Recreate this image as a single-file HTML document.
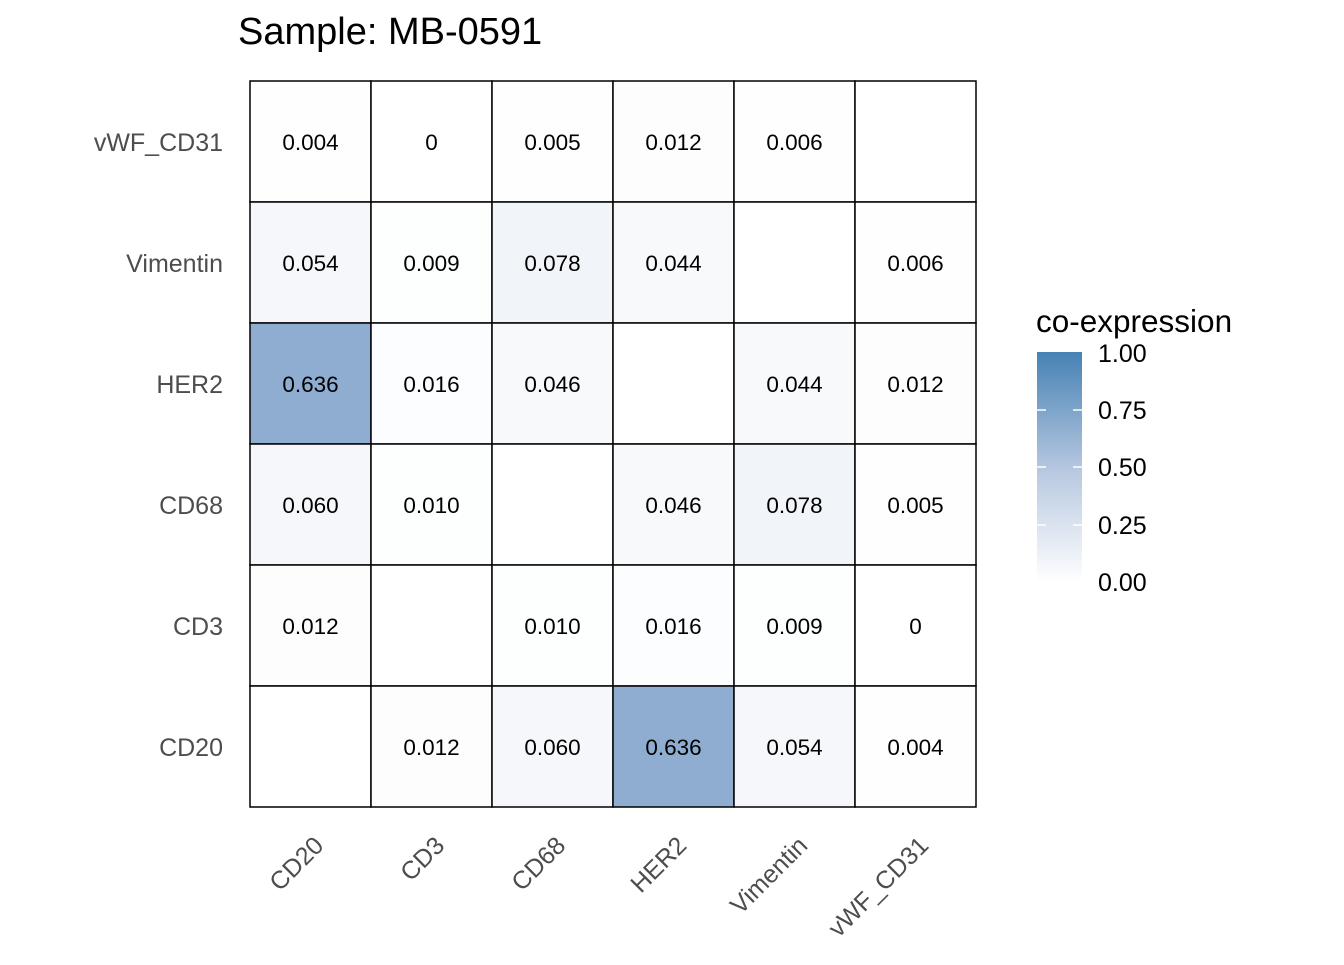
<!DOCTYPE html>
<html><head><style>body{margin:0;background:#fff}</style></head><body>
<svg width="1344" height="960" xmlns="http://www.w3.org/2000/svg" font-family="Liberation Sans, sans-serif">
<defs><linearGradient id="g" x1="0" y1="1" x2="0" y2="0">
<stop offset="0" stop-color="#ffffff"/><stop offset="0.5" stop-color="#b4c6df"/><stop offset="1" stop-color="#4682b4"/></linearGradient></defs>
<text x="238" y="44" font-size="38" fill="#000">Sample: MB-0591</text>
<g id="cells" stroke="#000" stroke-width="1.5"></g>
<g font-size="22.5" text-anchor="middle" id="vals"></g>
<g font-size="25" fill="#4d4d4d" text-anchor="end" id="ylab"></g>
<g font-size="25" fill="#4d4d4d" text-anchor="end" id="xlab"></g>
<text x="1036" y="332" font-size="31.5">co-expression</text>
<rect x="1037" y="352" width="45" height="230" fill="url(#g)"/>
<g stroke="#fff" stroke-width="1.5">
<line x1="1037" y1="410" x2="1046" y2="410"/><line x1="1073" y1="410" x2="1082" y2="410"/>
<line x1="1037" y1="467" x2="1046" y2="467"/><line x1="1073" y1="467" x2="1082" y2="467"/>
<line x1="1037" y1="525" x2="1046" y2="525"/><line x1="1073" y1="525" x2="1082" y2="525"/>
</g>
<g font-size="25" fill="#000"><text x="1098" y="362">1.00</text><text x="1098" y="419">0.75</text><text x="1098" y="476">0.50</text><text x="1098" y="534">0.25</text><text x="1098" y="591">0.00</text></g>
</svg>
<script>
var names=["CD20","CD3","CD68","HER2","Vimentin","vWF_CD31"];
var M=[["0.004","0","0.005","0.012","0.006",""],
["0.054","0.009","0.078","0.044","","0.006"],
["0.636","0.016","0.046","","0.044","0.012"],
["0.060","0.010","","0.046","0.078","0.005"],
["0.012","","0.010","0.016","0.009","0"],
["","0.012","0.060","0.636","0.054","0.004"]];
var ns="http://www.w3.org/2000/svg";
function el(p,t,a,txt){var e=document.createElementNS(ns,t);for(var k in a)e.setAttribute(k,a[k]);if(txt!==undefined)e.textContent=txt;document.getElementById(p).appendChild(e);}
function col(v){if(v>0.5)return"#8eadd0";var r=Math.round(255-175*v),g=Math.round(255-140*v),b=Math.round(255-90*v);return"rgb("+r+","+g+","+b+")";}
for(var i=0;i<6;i++)for(var j=0;j<6;j++){var s=M[i][j];var v=s===""?0:parseFloat(s);
el("cells","rect",{x:250+121*j,y:81+121*i,width:121,height:121,fill:s===""?"#fff":col(v)});
if(s!=="")el("vals","text",{x:310.5+121*j,y:150+121*i},s);}
var rows=["vWF_CD31","Vimentin","HER2","CD68","CD3","CD20"];
for(var i=0;i<6;i++)el("ylab","text",{x:223,y:151+121*i},rows[i]);
for(var j=0;j<6;j++){var x=325+121*j,y=847;el("xlab","text",{x:x,y:y,transform:"rotate(-45 "+x+" "+y+")"},names[j]);}
</script>
</body></html>
